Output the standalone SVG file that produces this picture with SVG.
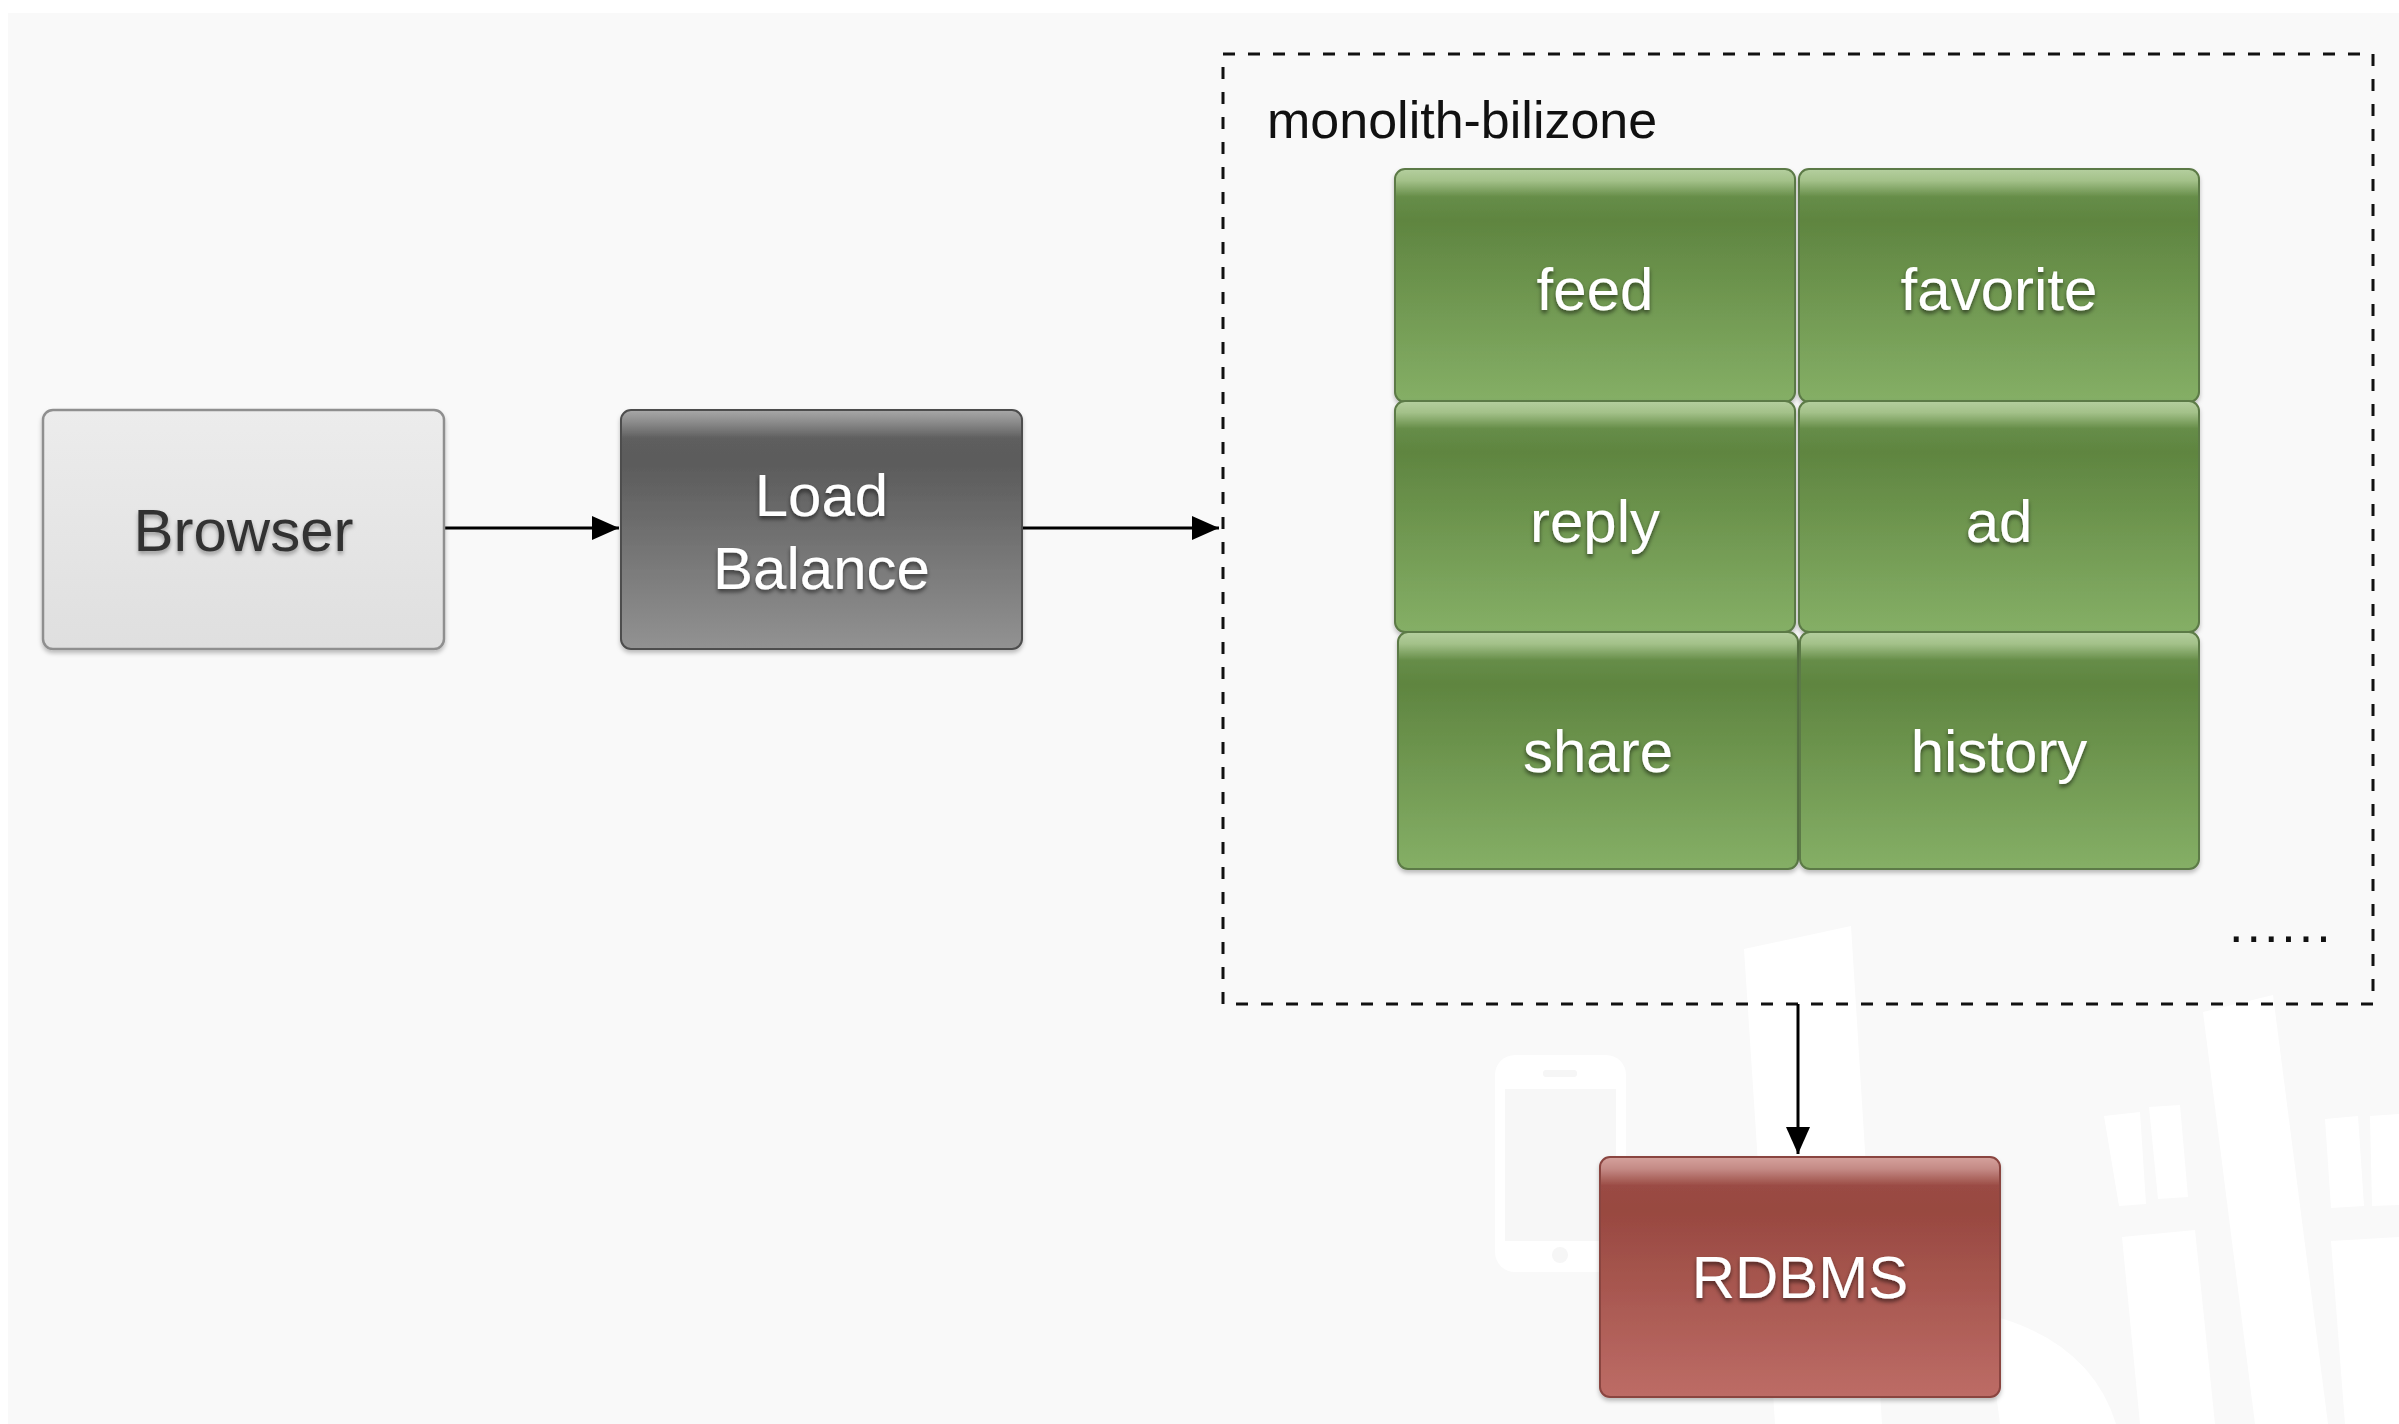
<svg xmlns="http://www.w3.org/2000/svg" width="2399" height="1424" viewBox="0 0 2399 1424">
  <style>
    .lbl { font-family: "Liberation Sans", Arial, sans-serif; font-size: 60px; text-anchor: middle; }
    .w { fill: #ffffff; filter: url(#tshadowDark); }
    .d { fill: #333333; filter: url(#tshadowLight); }
    .plain { font-family: "Liberation Sans", Arial, sans-serif; font-size: 52px; fill: #111111; }
    .conn { stroke: #000000; stroke-width: 3; fill: none; }
    .wm { fill: #ffffff; }
  </style>
  <defs>
    <linearGradient id="gGreen" x1="0" y1="0" x2="0" y2="1">
      <stop offset="0" stop-color="#b5cf9f"/>
      <stop offset="0.05" stop-color="#a3c189"/>
      <stop offset="0.12" stop-color="#668d48"/>
      <stop offset="0.22" stop-color="#5f8540"/>
      <stop offset="1" stop-color="#85af66"/>
    </linearGradient>
    <linearGradient id="gGray" x1="0" y1="0" x2="0" y2="1">
      <stop offset="0" stop-color="#a8a8a8"/>
      <stop offset="0.05" stop-color="#8c8c8c"/>
      <stop offset="0.12" stop-color="#5e5e5e"/>
      <stop offset="0.22" stop-color="#5b5b5b"/>
      <stop offset="1" stop-color="#929292"/>
    </linearGradient>
    <linearGradient id="gRed" x1="0" y1="0" x2="0" y2="1">
      <stop offset="0" stop-color="#d5a29d"/>
      <stop offset="0.05" stop-color="#c48a85"/>
      <stop offset="0.12" stop-color="#9a4b44"/>
      <stop offset="0.22" stop-color="#984840"/>
      <stop offset="1" stop-color="#bd6c66"/>
    </linearGradient>
    <linearGradient id="gLight" x1="0" y1="0" x2="0" y2="1">
      <stop offset="0" stop-color="#ececec"/>
      <stop offset="1" stop-color="#dfdfdf"/>
    </linearGradient>
    <filter id="boxShadow" x="-5%" y="-5%" width="110%" height="115%">
      <feDropShadow dx="0" dy="3" stdDeviation="2" flood-color="#000000" flood-opacity="0.25"/>
    </filter>
    <filter id="tshadowDark" x="-10%" y="-20%" width="120%" height="150%">
      <feDropShadow dx="0" dy="3" stdDeviation="2" flood-color="#000000" flood-opacity="0.55"/>
    </filter>
    <filter id="tshadowLight" x="-10%" y="-20%" width="120%" height="150%">
      <feDropShadow dx="0" dy="3" stdDeviation="2" flood-color="#000000" flood-opacity="0.35"/>
    </filter>
    <marker id="arrow" markerWidth="9" markerHeight="8" refX="9" refY="4" orient="auto" markerUnits="strokeWidth">
      <path d="M0,0 L9,4 L0,8 Z" fill="#000000"/>
    </marker>
  </defs>

  <!-- background -->
  <rect x="0" y="0" width="2399" height="1424" fill="#ffffff"/>
  <rect x="8" y="13" width="2391" height="1411" fill="#f9f9f9"/>

  <!-- faint watermark shapes -->
  <g id="watermark">
    <rect x="1495" y="1055" width="131" height="217" rx="20" class="wm"/>
    <rect x="1505" y="1089" width="111" height="152" fill="#f7f7f7"/>
    <rect x="1543" y="1070" width="34" height="7" rx="3" fill="#f6f6f6"/>
    <circle cx="1560" cy="1255" r="8" fill="#f6f6f6"/>
    <polygon points="1744,949 1851,926 1882,1424 1775,1424" class="wm"/>
    <polygon points="2203,1012 2273,995 2328,1424 2255,1424" class="wm"/>
    <polygon points="2104,1116 2140,1112 2146,1204 2119,1206" class="wm"/>
    <polygon points="2149,1107 2180,1105 2188,1197 2158,1199" class="wm"/>
    <polygon points="2325,1119 2358,1116 2364,1206 2331,1208" class="wm"/>
    <polygon points="2370,1116 2399,1114 2399,1205 2372,1206" class="wm"/>
    <polygon points="2122,1237 2195,1230 2215,1424 2140,1424" class="wm"/>
    <polygon points="2331,1241 2399,1237 2399,1424 2345,1424" class="wm"/>
    <path d="M1986,1314 Q2090,1340 2116,1424 L2000,1424 Z" class="wm"/>
  </g>

  <!-- container -->
  <g id="monolith-bilizone">
    <rect x="1223" y="54" width="1150" height="950" fill="none" stroke="#111111" stroke-width="3" stroke-dasharray="12 13"/>
    <text x="1267" y="138" class="plain">monolith-bilizone</text>
    <text x="2229" y="942" class="plain" letter-spacing="3">......</text>
  </g>

  <!-- connectors -->
  <g id="connectors">
    <line x1="444" y1="528" x2="619" y2="528" class="conn" marker-end="url(#arrow)"/>
    <line x1="1022" y1="528" x2="1219" y2="528" class="conn" marker-end="url(#arrow)"/>
    <line x1="1798" y1="1004" x2="1798" y2="1154" class="conn" marker-end="url(#arrow)"/>
  </g>

  <g id="browser">
    <rect x="43" y="410" width="401" height="239" rx="10" fill="url(#gLight)" stroke="#8f8f8f" stroke-width="2.5" filter="url(#boxShadow)"/>
    <text x="243.5" y="551" class="lbl d">Browser</text>
  </g>

  <g id="load-balance">
    <rect x="621" y="410" width="401" height="239" rx="10" fill="url(#gGray)" stroke="#4d4d4d" stroke-width="2" filter="url(#boxShadow)"/>
    <text x="821.5" y="516" class="lbl w">Load</text>
    <text x="821.5" y="589" class="lbl w">Balance</text>
  </g>

  <g id="feed">
    <rect x="1395" y="169" width="400" height="233" rx="10" fill="url(#gGreen)" stroke="#5c7a46" stroke-width="2" filter="url(#boxShadow)"/>
    <text x="1595" y="310" class="lbl w">feed</text>
  </g>
  <g id="favorite">
    <rect x="1799" y="169" width="400" height="233" rx="10" fill="url(#gGreen)" stroke="#5c7a46" stroke-width="2" filter="url(#boxShadow)"/>
    <text x="1999" y="310" class="lbl w">favorite</text>
  </g>
  <g id="reply">
    <rect x="1395" y="401" width="400" height="231" rx="10" fill="url(#gGreen)" stroke="#5c7a46" stroke-width="2" filter="url(#boxShadow)"/>
    <text x="1595" y="542" class="lbl w">reply</text>
  </g>
  <g id="ad">
    <rect x="1799" y="401" width="400" height="231" rx="10" fill="url(#gGreen)" stroke="#5c7a46" stroke-width="2" filter="url(#boxShadow)"/>
    <text x="1999" y="542" class="lbl w">ad</text>
  </g>
  <g id="share">
    <rect x="1398" y="632" width="400" height="237" rx="10" fill="url(#gGreen)" stroke="#5c7a46" stroke-width="2" filter="url(#boxShadow)"/>
    <text x="1598" y="772" class="lbl w">share</text>
  </g>
  <g id="history">
    <rect x="1800" y="632" width="399" height="237" rx="10" fill="url(#gGreen)" stroke="#5c7a46" stroke-width="2" filter="url(#boxShadow)"/>
    <text x="1999" y="772" class="lbl w">history</text>
  </g>

  <g id="rdbms">
    <rect x="1600" y="1157" width="400" height="240" rx="10" fill="url(#gRed)" stroke="#8a4540" stroke-width="2" filter="url(#boxShadow)"/>
    <text x="1800" y="1298" class="lbl w">RDBMS</text>
  </g>
</svg>
